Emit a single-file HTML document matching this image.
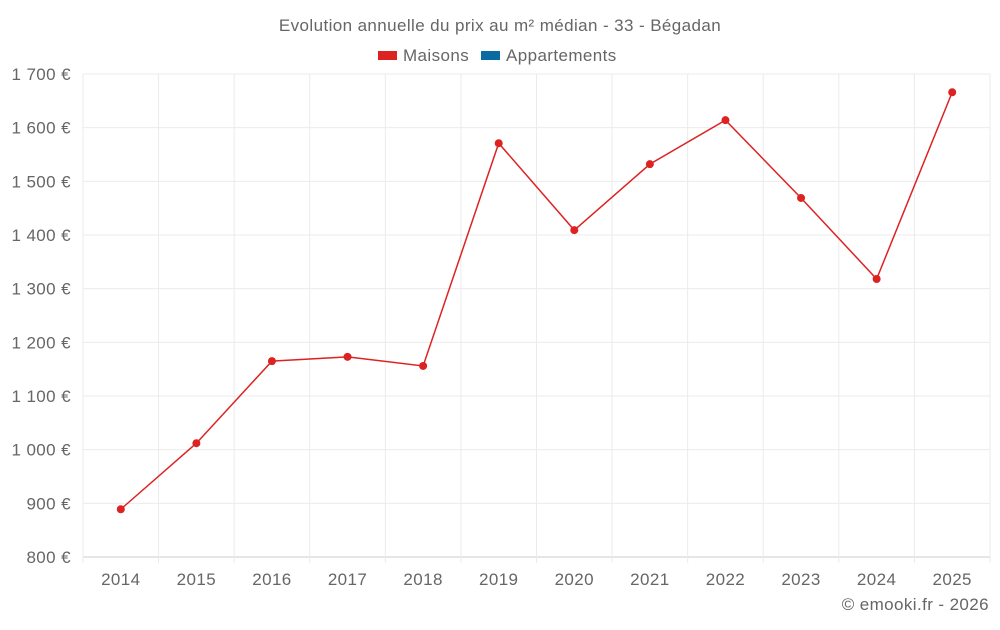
<!DOCTYPE html>
<html><head><meta charset="utf-8"><style>
body{margin:0;background:#fff;font-family:"Liberation Sans",sans-serif;}
svg text{font-family:"Liberation Sans",sans-serif;fill:#666;letter-spacing:0.4px;}
</style></head><body>
<svg id="chart" width="1000" height="625" xmlns="http://www.w3.org/2000/svg">
<text x="500" y="31" text-anchor="middle" font-size="17">Evolution annuelle du prix au m² médian - 33 - Bégadan</text>
<g><rect x="378" y="51" width="19" height="9" fill="#dd2222"/><text x="403" y="61" font-size="17">Maisons</text></g>
<g><rect x="481" y="51" width="19" height="9" fill="#0a6aa1"/><text x="506" y="61" font-size="17">Appartements</text></g>
<g id="grid"></g><g id="axes"></g><g id="series"></g>
<text x="989" y="610" text-anchor="end" font-size="17">© emooki.fr - 2026</text>
</svg>
<script>
const years=["2014","2015","2016","2017","2018","2019","2020","2021","2022","2023","2024","2025"];
const maisons=[889,1012,1165,1173,1156,1571,1409,1532,1614,1469,1318,1666];
const yTicks=[800,900,1000,1100,1200,1300,1400,1500,1600,1700];
const yTickLabels=["800 €","900 €","1 000 €","1 100 €","1 200 €","1 300 €","1 400 €","1 500 €","1 600 €","1 700 €"];
const L=83,R=990,T=74,B=557,yMin=800,yMax=1700;
const bw=(R-L)/years.length;
const xs=i=>L+bw*(i+0.5);
const ys=v=>B-(v-yMin)/(yMax-yMin)*(B-T);
const NS="http://www.w3.org/2000/svg";
function mk(tag,attrs,parent){const e=document.createElementNS(NS,tag);for(const k in attrs)e.setAttribute(k,attrs[k]);parent.appendChild(e);return e;}
const grid=document.getElementById('grid'),axes=document.getElementById('axes'),series=document.getElementById('series');
yTicks.forEach((t,i)=>{
 const l=mk('line',{x1:L,x2:R,y1:ys(t),y2:ys(t),stroke:i==0?'#ccc':'#ebebeb','stroke-width':1},grid);
 
 
 const tx=mk('text',{x:71,y:ys(t)+6,'text-anchor':'end','font-size':17},axes);
 tx.textContent=yTickLabels[i];
 
 
});
for(let i=0;i<=years.length;i++){
 const x=L+bw*i;
 const l=mk('line',{x1:x,x2:x,y1:T,y2:B+6,stroke:'#ebebeb','stroke-width':1},grid);
 
 
}
years.forEach((y,i)=>{
 const tx=mk('text',{x:xs(i),y:585,'text-anchor':'middle','font-size':17},axes);
 tx.textContent=y;
 
 
});
const p=mk('polyline',{points:maisons.map((v,i)=>xs(i)+','+ys(v)).join(' '),fill:'none',stroke:'#dd2222','stroke-width':1.5},series);


maisons.forEach((v,i)=>{
 const c=mk('circle',{cx:xs(i),cy:ys(v),r:4,fill:'#dd2222'},series);
 
 
});
</script>
</body></html>
